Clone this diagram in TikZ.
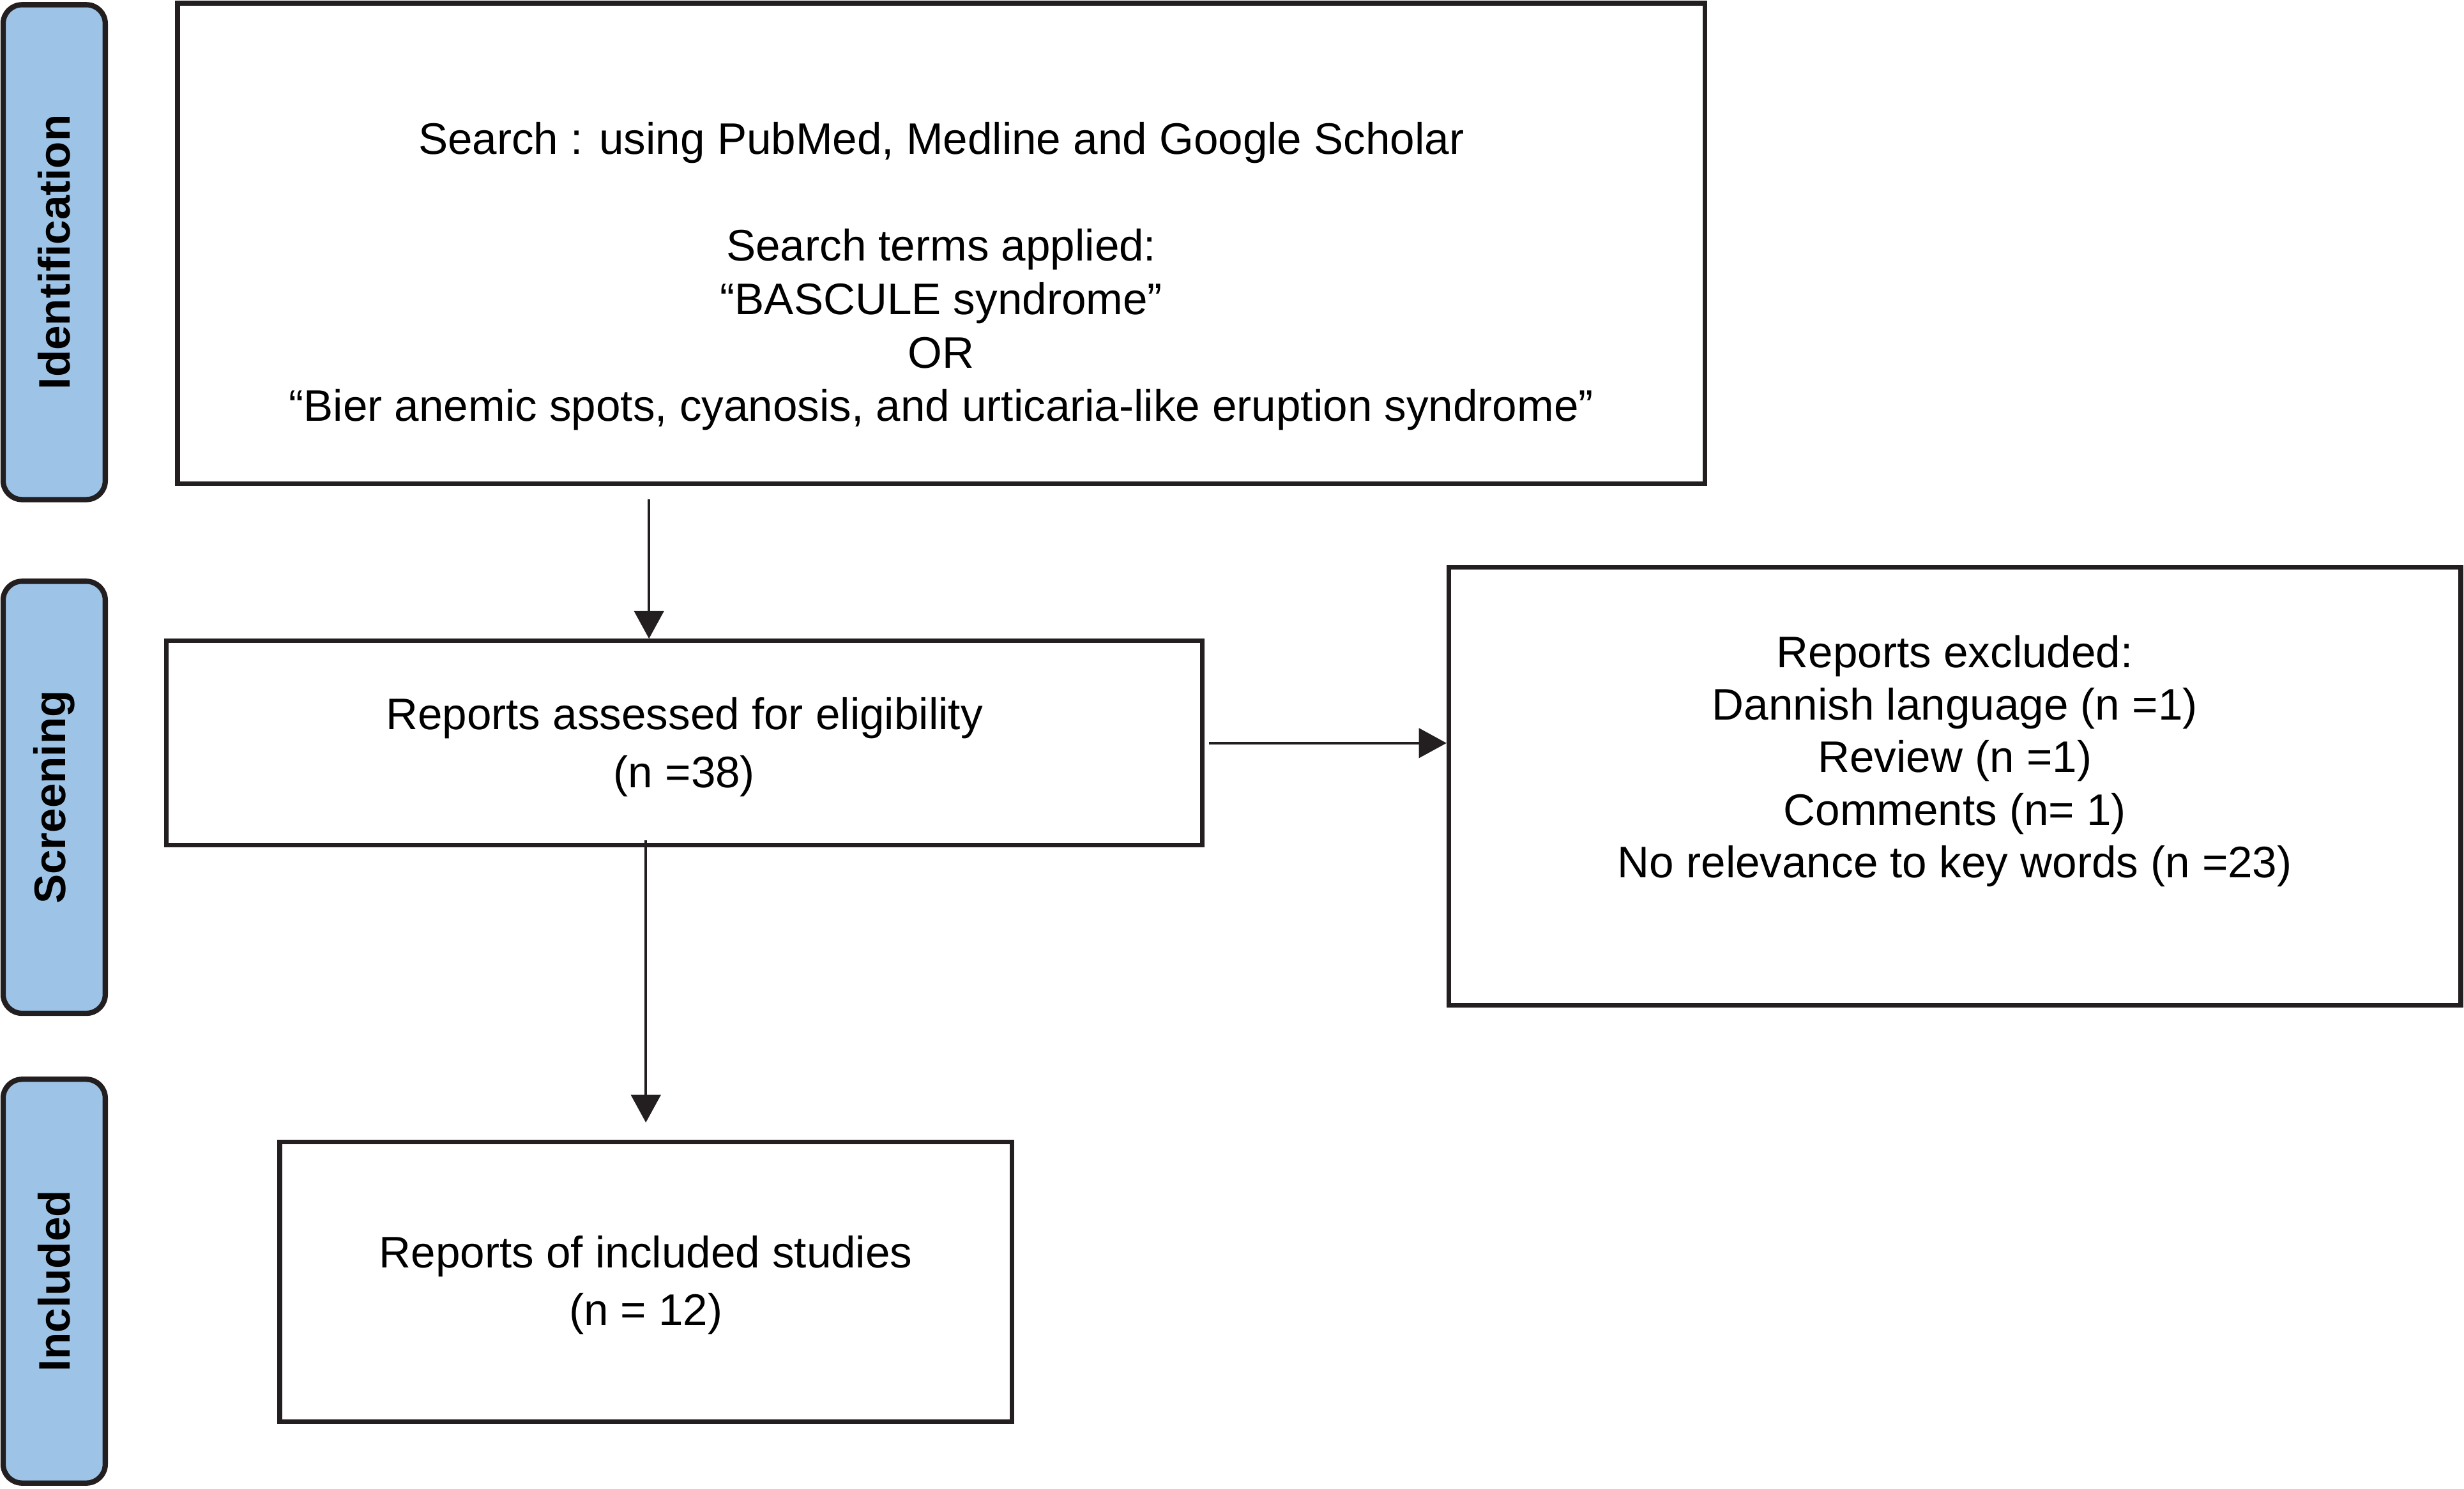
\documentclass[tikz,border=0pt]{standalone}
\usepackage{fontspec}
\setmainfont{Liberation Sans}
\usetikzlibrary{arrows.meta,calc}
\definecolor{sideblue}{RGB}{157,195,230}
\definecolor{ink}{RGB}{35,31,32}
\begin{document}
\begin{tikzpicture}[x=0.025cm,y=-0.025cm,
  box/.style={draw=ink,line width=2.1pt,inner sep=0pt},
  txt/.style={inner sep=0pt,align=center,font=\fontsize{20}{24.2}\selectfont},
  txtwide/.style={inner sep=0pt,align=center,font=\fontsize{20}{26.2}\selectfont},
  side/.style={draw=ink,fill=sideblue,line width=2.4pt,rounded corners=0.3cm,inner sep=0pt,
    minimum width={65*0.025cm}},
  sidetxt/.style={rotate=90,font=\bfseries\fontsize{20}{24}\selectfont,inner sep=0pt},
  arr/.style={draw=ink,line width=1.15pt,-{Triangle[width=0.47cm,length=0.44cm]}}]
\useasboundingbox (0,0) rectangle (1568,947.4);
% side bars
\node[side,minimum height={315*0.025cm}] (sid) at (34.5,160.5) {};
\node[sidetxt] (sidt) at (sid.center) {Identification};
\node[side,minimum height={275*0.025cm}] (sscr) at (34.5,507.5) {};
\node[sidetxt] (sscrt) at (sscr.center) {Screening};
\node[side,minimum height={257*0.025cm}] (sinc) at (34.5,815.5) {};
\node[sidetxt] (sinct) at (sinc.center) {Included};
% boxes
\node[box,minimum width={972*0.025cm},minimum height={306*0.025cm}] (search) at (599,155) {};
\node[txt] (searchtxt) at (599,176) {Search : using PubMed, Medline and Google Scholar\\[24pt]
Search terms applied:\\ “BASCULE syndrome”\\ OR\\
“Bier anemic spots, cyanosis, and urticaria-like eruption syndrome”};
\node[box,minimum width={659*0.025cm},minimum height={130*0.025cm}] (assess) at (435.5,473) {};
\node[txtwide] (assesstxt) at (435.5,475.5) {Reports assessed for eligibility\\ (n =38)};
\node[box,minimum width={644*0.025cm},minimum height={279*0.025cm}] (excl) at (1244,500.5) {};
\node[txt,font=\fontsize{20}{23.8}\selectfont] (excltxt) at (1244,484.5) {Reports excluded:\\ Dannish language (n =1)\\ Review (n =1)\\
Comments (n= 1)\\ No relevance to key words (n =23)};
\node[box,minimum width={466*0.025cm},minimum height={178*0.025cm}] (incl) at (411,816) {};
\node[txtwide] (incltxt) at (411,818) {Reports of included studies\\ (n = 12)};
% connectors
\coordinate (a1) at (413,318);
\draw[arr] (a1) -- (a1 |- assess.north);
\coordinate (a2) at ($(assess.east)+(3,0)$);
\draw[arr] (a2) -- (a2 -| excl.west);
\coordinate (a3) at (411,535);
\draw[arr] (a3) -- ([yshift=0.275cm]incl.north);
\end{tikzpicture}
\end{document}
